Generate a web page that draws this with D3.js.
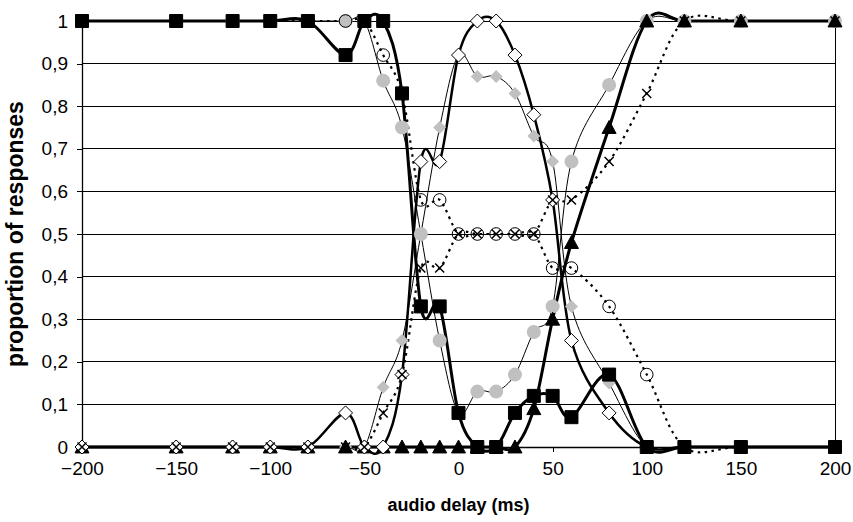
<!DOCTYPE html>
<html>
<head>
<meta charset="utf-8">
<script src="https://cdn.jsdelivr.net/npm/d3@7/dist/d3.min.js"></script>
<style>
  html, body { margin: 0; padding: 0; background: #fff; }
  svg { display: block; font-family: Arial, "Liberation Sans", sans-serif; }
</style>
</head>
<body>
<svg id="chart" width="853" height="522"></svg>
<script>
// ---- data ----
const delays = [-200,-150,-120,-100,-80,-60,-50,-40,-30,-20,-10,0,10,20,30,40,50,60,80,100,120,150,200];
const squares      = [1,1,1,1,1,0.92,1,1,0.83,0.33,0.33,0.08,0,0,0.08,0.12,0.12,0.07,0.17,0,0,0,0];
const triangles    = [0,0,0,0,0,0,0,0,0,0,0,0,0,0,0,0.09,0.3,0.48,0.75,1,1,1,1];
const whiteDiamonds= [0,0,0,0,0,0.08,0,0,0.17,0.67,0.67,0.92,1,1,0.92,0.78,0.58,0.25,0.08,0,0,0,0];
const greyDiamonds = [0,0,0,0,0,0,0,0.14,0.25,0.5,0.75,0.92,0.87,0.87,0.83,0.73,0.67,0.33,0.15,0,0,0,0];
const greyCircles  = [1,1,1,1,1,1,1,0.86,0.75,0.5,0.25,0.08,0.13,0.13,0.17,0.27,0.33,0.67,0.85,1,1,1,1];
const openCircles  = [1,1,1,1,1,1,1,0.92,0.83,0.58,0.58,0.5,0.5,0.5,0.5,0.5,0.42,0.42,0.33,0.17,0,0,0];
const crosses      = [0,0,0,0,0,0,0,0.08,0.17,0.42,0.42,0.5,0.5,0.5,0.5,0.5,0.58,0.58,0.67,0.83,1,1,1];
const xTicks = [-200,-150,-100,-50,0,50,100,150,200];
const yTicks = [0,0.1,0.2,0.3,0.4,0.5,0.6,0.7,0.8,0.9,1];
const xTitle = "audio delay (ms)";
const yTitle = "proportion of responses";

// ---- layout ----
const svg = d3.select("#chart");
const x = d3.scaleLinear().domain([-200, 200]).range([82, 835]);
const y = d3.scaleLinear().domain([0, 1]).range([447, 21]);

// gridlines
svg.append("g").selectAll("line").data(yTicks.filter(d => d > 0)).join("line")
  .attr("x1", x(-200)).attr("x2", x(200))
  .attr("y1", d => y(d)).attr("y2", d => y(d))
  .attr("stroke", "#000").attr("stroke-width", 1).attr("shape-rendering", "crispEdges");

// right border
svg.append("line").attr("x1", x(200)).attr("x2", x(200)).attr("y1", y(1)).attr("y2", y(0))
  .attr("stroke", "#000").attr("stroke-width", 1).attr("shape-rendering", "crispEdges");

// axes
const fmt = d => d3.format(".1~f")(d).replace(".", ",");
const yAxis = svg.append("g").attr("transform", `translate(${x(-200)},0)`)
  .call(d3.axisLeft(y).tickValues(yTicks).tickFormat(fmt).tickSize(5).tickPadding(9));
const xAxis = svg.append("g").attr("transform", `translate(0,${y(0)})`)
  .call(d3.axisBottom(x).tickValues(xTicks).tickFormat(d3.format("d")).tickSize(5).tickPadding(10));
[yAxis, xAxis].forEach(a => {
  a.select(".domain").attr("stroke", "#000").attr("stroke-width", 1.3);
  a.selectAll(".tick line").attr("stroke", "#000").attr("shape-rendering", "crispEdges");
  a.selectAll("text").attr("font-size", 19).attr("fill", "#000")
    .attr("font-family", "Arial, 'Liberation Sans', sans-serif");
});
xAxis.selectAll(".tick").filter(d => d === 200).select("line").remove();

svg.append("text").attr("x", x(0)).attr("y", 511).attr("text-anchor", "middle")
  .attr("font-size", 18).attr("font-weight", "bold").text(xTitle);
svg.append("text").attr("transform", `translate(23,${y(0.5)}) rotate(-90)`)
  .attr("text-anchor", "middle").attr("font-size", 23).attr("font-weight", "bold").text(yTitle);

// ---- series ----
const mk = vals => delays.map((d, i) => [d, vals[i]]);
const curve = d3.curveCatmullRom.alpha(0);
const line = d3.line().x(d => x(d[0])).y(d => y(d[1])).curve(curve);

const sq = 6.5, tri = 7, dia = 7;
const shapes = {
  square: `M${-sq},${-sq}H${sq}V${sq}H${-sq}Z`,
  triangle: `M0,${-tri}L${tri},${tri*0.85}L${-tri},${tri*0.85}Z`,
  diamond: `M0,${-dia}L${dia},0L0,${dia}L${-dia},0Z`,
  gdiamond: `M0,-6.5L6.5,0L0,6.5L-6.5,0Z`,
  circle: d3.symbol(d3.symbolCircle, Math.PI * 7 * 7)(),
  ocircle: d3.symbol(d3.symbolCircle, Math.PI * 6.3 * 6.3)(),
  cross: "M-4.5,-4.5L4.5,4.5M-4.5,4.5L4.5,-4.5"
};

const series = [
  { vals: greyDiamonds, lw: 1, dash: null, shape: "gdiamond", fill: "#c0c0c0", stroke: "none", sw: 0 },
  { vals: greyCircles, lw: 1, dash: null, shape: "circle", fill: "#c0c0c0", stroke: "none", sw: 0 },
  { vals: triangles, lw: 3, dash: null, shape: "triangle", fill: "#000", stroke: "#000", sw: 1 },
  { vals: whiteDiamonds, lw: 2.5, dash: null, shape: "diamond", fill: "#fff", stroke: "#000", sw: 1 },
  { vals: openCircles, lw: 2.2, dash: "2.5,4.5", shape: "ocircle", fill: "none", stroke: "#000", sw: 1 },
  { vals: crosses, lw: 2.2, dash: "2.5,4.5", shape: "cross", fill: "none", stroke: "#000", sw: 1.5 },
  { vals: squares, lw: 3, dash: null, shape: "square", fill: "#000", stroke: "#000", sw: 1 }
];

const gl = svg.append("g");
series.forEach(s => {
  gl.append("path").datum(mk(s.vals)).attr("d", line)
    .attr("fill", "none").attr("stroke", "#000").attr("stroke-width", s.lw)
    .attr("stroke-dasharray", s.dash).attr("stroke-linejoin", "round");
});
const gm = svg.append("g");
series.forEach(s => {
  gm.append("g").selectAll("path").data(mk(s.vals)).join("path")
    .attr("transform", d => `translate(${x(d[0])},${y(d[1])})`)
    .attr("d", shapes[s.shape])
    .attr("fill", s.fill).attr("stroke", s.stroke).attr("stroke-width", s.sw);
});
</script>
</body>
</html>
